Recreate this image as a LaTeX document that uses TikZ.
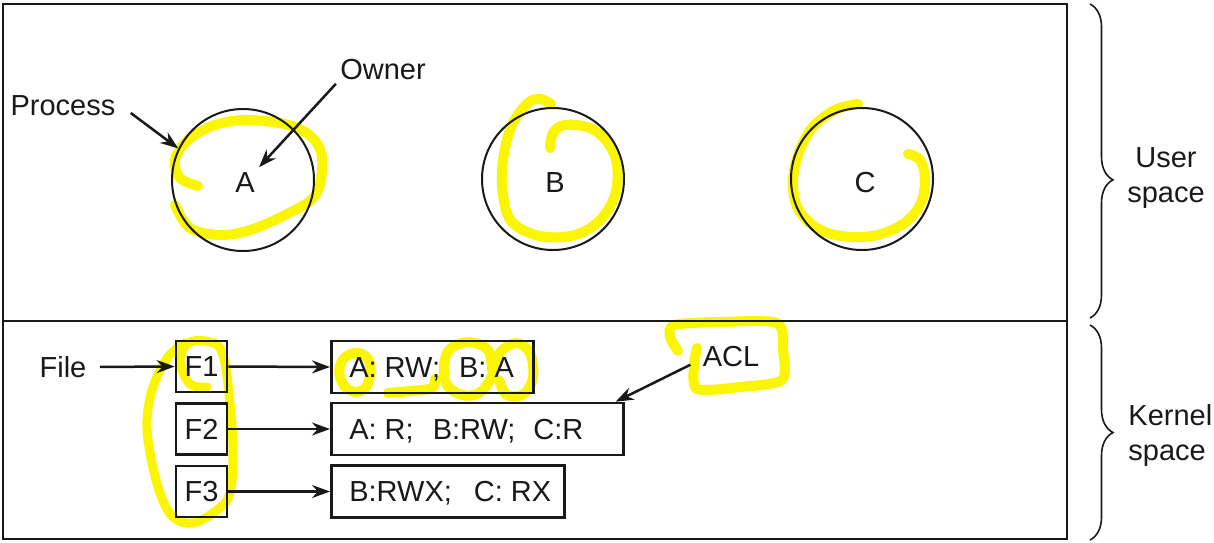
\documentclass[tikz,border=0pt]{standalone}
\usepackage{fontspec}
\setmainfont{Liberation Sans}
\usetikzlibrary{arrows.meta,decorations.pathreplacing,calc}
\definecolor{marker}{RGB}{250,245,0}
\definecolor{ink}{RGB}{25,25,25}
\newcommand{\acltxt}[2]{\makebox[#1][l]{#2}}

\begin{document}
\begin{tikzpicture}[x=0.5pt,y=-0.5pt,
  font=\fontsize{14.5pt}{17.5pt}\selectfont,
  color=ink,
  lbl/.style={inner sep=2pt,text height=10.4pt,text depth=0pt},
  outerline/.style={line width=1.2pt},
  proc/.style={draw,circle,line width=1pt,minimum size=71pt,inner sep=0pt},
  fbox/.style={draw,line width=1.3pt,minimum width=25.5pt,minimum height=25.5pt,
    inner sep=0pt,text height=10.4pt,text depth=0pt},
  aclbox/.style={draw,line width=1.3pt,anchor=west,minimum height=26pt,
    inner xsep=9pt,inner ysep=0pt,text height=10.4pt,text depth=0pt},
  arr/.style={line width=1.25pt,-{Stealth[length=9pt,width=6.5pt]}},
  hl/.style={draw=marker,line width=5pt,line cap=round,line join=round},
  spacebrace/.style={decorate,line width=0.8pt},
]
\useasboundingbox (0,0) rectangle (1214,542);

% highlighter strokes, underneath everything else
\draw[hl] plot[smooth,tension=0.6] coordinates {(198,186) (180,178) (175,160) (188,140)
  (215,125) (250,120) (295,127) (318,145) (322,170) (314,197) (285,215) (250,230)
  (220,235) (190,228) (175,205)};
\draw[hl] plot[smooth,tension=0.6] coordinates {(551,104) (540,99) (528,103) (512,125)
  (503,160) (503,195) (512,222) (540,236) (575,235) (600,220) (615,195) (617,165)
  (608,143) (590,128) (565,125) (553,133) (550,148)};
\draw[hl] plot[smooth,tension=0.6] coordinates {(858,104) (835,110) (812,128) (798,155)
  (793,185) (800,212) (825,232) (865,237) (900,226) (920,205) (925,180) (920,160)
  (908,154)};
\draw[hl,line width=4.5pt] plot[smooth,tension=0.6] coordinates {(207,387) (190,384)
  (180,362) (187,344) (205,341) (222,352) (230,403) (233,453) (230,493) (217,510)
  (193,523) (173,517) (160,493) (150,453) (147,420) (153,387) (168,357) (185,343)};
\draw[hl] plot[smooth cycle,tension=0.7] coordinates {(355,353) (368,359) (370,376)
  (363,390) (349,390) (340,377) (342,361)};
\draw[hl] plot[smooth,tension=0.6] coordinates {(388,393) (410,391) (432,388) (435,379)};
\draw[hl] plot[smooth,tension=0.6] coordinates {(492,370) (488,350) (469,342) (450,349)
  (444,366) (447,385) (462,395) (479,393) (491,378) (499,354) (516,343) (530,353)
  (533,377) (524,394) (507,395) (499,380)};
\draw[hl] plot[smooth,tension=0.45] coordinates {(678,351) (670,337) (674,325) (720,322)
  (777,323) (783,350) (782,380) (740,387) (697,389) (694,365) (697,348)};

% frame of the two spaces
\draw[outerline] (3,4) rectangle (1067,539);
\draw[outerline] (3,321) -- (1067,321);

% processes in user space
\node[proc] (cA) at (243,180) {};
\node[proc] (cB) at (553,179) {};
\node[proc] (cC) at (862,179) {};
\node[lbl] (lA) at (245,182) {A};
\node[lbl] (lB) at (555,182) {B};
\node[lbl] (lC) at (865,182) {C};
\node[lbl] (process) at (63,105) {Process};
\node[lbl] (owner) at (383,69) {Owner};
\coordinate (procTail) at ([xshift=5.5pt,yshift=-4pt]process.east);
\draw[arr] (procTail) -- (cA.154);
\draw[arr] (owner.south west) -- (lA.north east);

% files and their access control lists in kernel space
\node[lbl] (file) at (63,367) {File};
\node[fbox] (f1) at (201.5,366.5) {F1};
\node[fbox] (f2) at (201.5,429) {F2};
\node[fbox] (f3) at (201.5,491.5) {F3};
\node[aclbox] (acl1) at (330,367) {\acltxt{83pt}{A: RW;\hspace{9.5pt}B: A}};
\node[aclbox] (acl2) at (330,429) {\acltxt{128pt}{A: R;\hspace{9.5pt}B:RW;\hspace{9pt}C:R}};
\node[aclbox] (acl3) at (330,491.5) {\acltxt{98.5pt}{B:RWX;\hspace{11pt}C: RX}};
\node[lbl] (acl) at (731,356) {ACL};
\draw[arr,shorten <=4.5pt] (file.east) -- (f1.west);
\draw[arr] (f1.east) -- (acl1.west);
\draw[arr] (f2.east) -- (acl2.west);
\draw[arr] (f3.east) -- (acl3.west);
\coordinate (aclTail) at ([xshift=-4pt]acl.195);
\coordinate (aclTip) at ([xshift=-4.5pt]acl2.north east);
\draw[arr] (aclTail) -- (aclTip);

% braces naming the two spaces
\draw[spacebrace,decoration={brace,amplitude=11.5pt,aspect=0.56}] (1090,4) -- (1090,318);
\draw[spacebrace,decoration={brace,amplitude=11.5pt}] (1090,325) -- (1090,540);
\node[align=center] (user) at (1166,178) {User\\space};
\node[align=left,anchor=west,inner xsep=1pt] (kernel) at (1126,435) {Kernel\\space};
\end{tikzpicture}
\end{document}
